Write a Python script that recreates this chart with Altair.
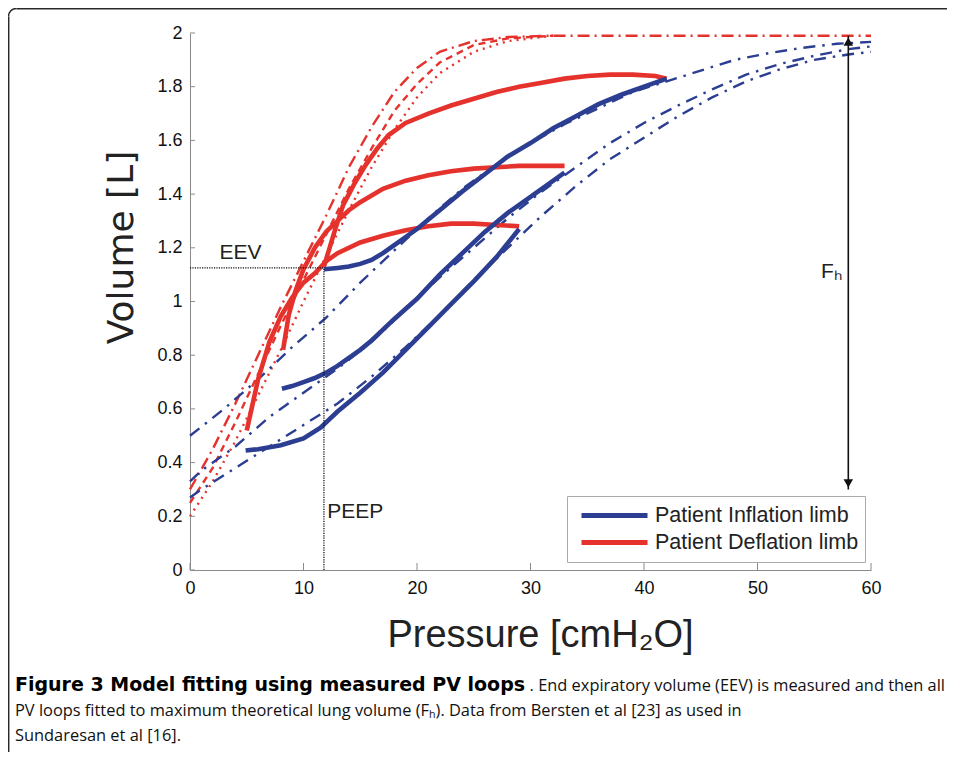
import altair as alt
import pandas as pd

BLUE = "#2c3e91"
RED = "#e5322c"

# ---------------- measured PV loops (pressure cmH2O, volume L) ----------------
infl_A_p = [4.9, 6, 8, 10, 11.5, 13, 15, 17, 19, 21, 23, 25, 27, 29]
infl_A_v = [0.445, 0.45, 0.465, 0.49, 0.53, 0.59, 0.66, 0.735, 0.82, 0.905, 0.99, 1.075, 1.165, 1.27]
infl_B_p = [8.1, 9, 10, 11, 12, 13, 14, 15, 16, 18, 20, 22, 24, 26, 28, 30, 33]
infl_B_v = [0.675, 0.685, 0.70, 0.715, 0.735, 0.76, 0.79, 0.82, 0.855, 0.935, 1.01, 1.1, 1.18, 1.26, 1.33, 1.39, 1.48]
infl_C_p = [11.8, 13, 14, 15, 16, 17, 18, 20, 22, 24, 26, 28, 30, 32, 34, 36, 38, 40, 42]
infl_C_v = [1.12, 1.125, 1.13, 1.14, 1.155, 1.18, 1.21, 1.27, 1.34, 1.41, 1.475, 1.54, 1.59, 1.645, 1.69, 1.735, 1.77, 1.80, 1.83]

defl_A_p = [29, 27, 25, 23, 21, 19, 17, 15, 13, 12, 11, 10, 9, 8, 7, 6, 5]
defl_A_v = [1.28, 1.285, 1.29, 1.29, 1.28, 1.265, 1.245, 1.22, 1.18, 1.15, 1.105, 1.07, 1.015, 0.945, 0.85, 0.71, 0.52]
defl_B_p = [33, 31, 29, 27, 25, 23, 21, 19, 17, 15, 14, 13, 12, 11, 10, 9.3, 8.7, 8.2]
defl_B_v = [1.505, 1.505, 1.505, 1.5, 1.495, 1.485, 1.47, 1.45, 1.42, 1.37, 1.34, 1.30, 1.26, 1.2, 1.12, 1.04, 0.95, 0.82]
defl_C_p = [42, 41, 39, 37, 35, 33, 31, 29, 27, 25, 23, 21, 19, 17.5, 16.5, 15.5, 14.5, 13.5, 12.8, 12.3, 11.8]
defl_C_v = [1.83, 1.84, 1.845, 1.845, 1.84, 1.83, 1.815, 1.80, 1.78, 1.755, 1.73, 1.70, 1.665, 1.62, 1.57, 1.51, 1.44, 1.36, 1.27, 1.2, 1.13]

# ---------------- model fits ----------------
mod_R1_p = [0, 2, 4, 6, 8, 10, 12, 14, 16, 18, 20, 22, 25, 28, 32, 40, 50, 60]
mod_R1_v = [0.30, 0.45, 0.62, 0.80, 0.98, 1.15, 1.32, 1.50, 1.65, 1.78, 1.87, 1.93, 1.97, 1.985, 1.99, 1.99, 1.99, 1.99]
mod_R2_p = [0, 2, 4, 6, 8, 10, 12, 14, 16, 18, 20, 22, 25, 28, 32]
mod_R2_v = [0.25, 0.38, 0.55, 0.73, 0.91, 1.08, 1.25, 1.42, 1.57, 1.71, 1.81, 1.89, 1.955, 1.98, 1.99]
mod_R3_p = [0, 2, 4, 6, 8, 10, 12, 14, 16, 18, 20, 22, 25, 28, 32]
mod_R3_v = [0.20, 0.33, 0.48, 0.65, 0.82, 1.00, 1.17, 1.34, 1.50, 1.64, 1.76, 1.85, 1.93, 1.97, 1.99]

mod_B1_p = [0, 3, 6, 9, 12, 15, 18, 21, 24, 27, 30, 33, 36, 39, 42, 45, 48, 51, 54, 57, 60]
mod_B1_v = [0.50, 0.60, 0.71, 0.83, 0.94, 1.07, 1.19, 1.31, 1.42, 1.51, 1.59, 1.66, 1.72, 1.78, 1.82, 1.86, 1.90, 1.925, 1.945, 1.96, 1.967]
mod_B2_p = [0, 1, 4, 7, 10, 13, 16, 19, 22, 25, 28, 31, 34, 37, 40, 43, 46, 49, 52, 55, 58, 60]
mod_B2_v = [0.33, 0.37, 0.46, 0.57, 0.66, 0.75, 0.85, 0.97, 1.09, 1.20, 1.31, 1.41, 1.50, 1.59, 1.665, 1.73, 1.79, 1.845, 1.885, 1.915, 1.94, 1.95]
mod_B3_p = [0, 1, 4, 7, 10, 13, 16, 19, 22, 25, 28, 31, 34, 37, 40, 43, 46, 49, 52, 55, 58, 60]
mod_B3_v = [0.27, 0.30, 0.38, 0.46, 0.54, 0.62, 0.72, 0.83, 0.95, 1.08, 1.20, 1.32, 1.43, 1.53, 1.61, 1.69, 1.76, 1.82, 1.865, 1.90, 1.92, 1.93]

model_names = ["R1", "R2", "R3", "B1", "B2", "B3"]
model_dashes = [[12, 5, 2, 5], [7, 5], [2, 5], [12, 7, 2.5, 7], [12, 7, 2.5, 7], [12, 7, 2.5, 7]]

limb_names = ["Patient Inflation limb", "Patient Deflation limb"]

# annotations
eev_p, eev_v = 11.8, 1.125
fh_p, fh_low, fh_high = 58.0, 0.30, 1.99
x_ticks = [0, 10, 20, 30, 40, 50, 60]
y_ticks = [0, 0.2, 0.4, 0.6, 0.8, 1.0, 1.2, 1.4, 1.6, 1.8, 2.0]

caption_bold = "Figure 3 Model fitting using measured PV loops"
caption_rest = ". End expiratory volume (EEV) is measured and then all"
caption_line2 = "PV loops fitted to maximum theoretical lung volume (F\u2095). Data from Bersten et al [23] as used in"
caption_line3 = "Sundaresan et al [16]."


def curve_rows(name, ps, vs, **extra):
    return [dict(p=p, v=v, curve=name, i=k, **extra) for k, (p, v) in enumerate(zip(ps, vs))]


meas_rows = []
meas_rows += curve_rows("dA", defl_A_p, defl_A_v, limb=limb_names[1])
meas_rows += curve_rows("dB", defl_B_p, defl_B_v, limb=limb_names[1])
meas_rows += curve_rows("dC", defl_C_p, defl_C_v, limb=limb_names[1])
meas_rows += curve_rows("iA", infl_A_p, infl_A_v, limb=limb_names[0])
meas_rows += curve_rows("iB", infl_B_p, infl_B_v, limb=limb_names[0])
meas_rows += curve_rows("iC", infl_C_p, infl_C_v, limb=limb_names[0])
meas_df = pd.DataFrame(meas_rows)

red_df = pd.DataFrame(curve_rows("R1", mod_R1_p, mod_R1_v) + curve_rows("R2", mod_R2_p, mod_R2_v)
                      + curve_rows("R3", mod_R3_p, mod_R3_v))
blue_df = pd.DataFrame(curve_rows("B1", mod_B1_p, mod_B1_v) + curve_rows("B2", mod_B2_p, mod_B2_v)
                       + curve_rows("B3", mod_B3_p, mod_B3_v))

FONT = "Liberation Sans"

xscale = alt.Scale(domain=[0, 60], nice=False, zero=False)
yscale = alt.Scale(domain=[0, 2], nice=False, zero=False)

x_axis = alt.Axis(values=x_ticks, labelFontSize=18, labelFont=FONT, labelColor="#111", labelPadding=9,
                  labelFlush=False, labelOverlap=False, ticks=False, tickSize=0, grid=False,
                  domainColor="#8a8a8a", domainWidth=1,
                  title="Pressure [cmH\u2082O]", titleFont=FONT, titleFontSize=38, titleFontWeight="normal",
                  titleColor="#222", titleX=350, titleY=76, titleAlign="center", titleBaseline="alphabetic")
y_axis = alt.Axis(values=y_ticks, format=".1~f", labelFontSize=18, labelFont=FONT, labelColor="#111",
                  labelPadding=8, labelFlush=False, labelOverlap=False, ticks=False, tickSize=0, grid=False,
                  domainColor="#8a8a8a", domainWidth=1,
                  title="Volume [L]", titleFont="DejaVu Sans", titleFontSize=36, titleFontWeight="normal",
                  titleColor="#222", titleX=-58, titleY=214, titleAlign="center", titleBaseline="alphabetic")

X = alt.X("p:Q", scale=xscale, axis=x_axis)
Y = alt.Y("v:Q", scale=yscale, axis=y_axis)
dash = alt.StrokeDash("curve:N", scale=alt.Scale(domain=model_names, range=model_dashes), legend=None)

red_models = alt.Chart(red_df).mark_line(strokeWidth=2.4, color=RED).encode(
    x=X, y=Y, detail="curve:N", order="i:Q", strokeDash=dash)
blue_models = alt.Chart(blue_df).mark_line(strokeWidth=2.4, color=BLUE).encode(
    x=X, y=Y, detail="curve:N", order="i:Q", strokeDash=dash)

measured = alt.Chart(meas_df).mark_line(strokeWidth=4.6, strokeCap="butt").encode(
    x=X, y=Y, detail="curve:N", order="i:Q",
    color=alt.Color("limb:N", scale=alt.Scale(domain=limb_names, range=[BLUE, RED]),
                    legend=alt.Legend(title=None, orient="none", legendX=377, legendY=463,
                                      direction="vertical", symbolType="stroke", symbolSize=4356,
                                      symbolStrokeWidth=5, clipHeight=27, rowPadding=0,
                                      labelFontSize=21.5, labelFont=FONT, labelColor="#222", labelLimit=0,
                                      labelOffset=5, padding=6, symbolOffset=6,
                                      strokeColor="#aaaaaa", fillColor="white")))

ann_df = pd.DataFrame([dict(p=eev_p, v=eev_v, p0=0.0, v0=0.0)])
eev_h = alt.Chart(ann_df).mark_rule(color="#111", strokeDash=[1.2, 1.2], strokeWidth=1.3).encode(
    x="p0:Q", x2="p:Q", y="v:Q")
eev_v_rule = alt.Chart(ann_df).mark_rule(color="#111", strokeDash=[1.2, 1.2], strokeWidth=1.3).encode(
    x="p:Q", y="v0:Q", y2="v:Q")

fh_df = pd.DataFrame([dict(p=fh_p, lo=fh_low, hi=fh_high)])
fh_rule = alt.Chart(fh_df).mark_rule(color="#111", strokeWidth=1.6).encode(x="p:Q", y="lo:Q", y2="hi:Q")
fh_top = alt.Chart(fh_df).mark_point(shape="triangle-up", filled=True, size=90, color="#111", opacity=1,
                                     yOffset=6).encode(x="p:Q", y="hi:Q")
fh_bot = alt.Chart(fh_df).mark_point(shape="triangle-down", filled=True, size=90, color="#111", opacity=1,
                                     yOffset=-6).encode(x="p:Q", y="lo:Q")

lbl_df = pd.DataFrame([
    dict(p=2.6, v=1.18, t="EEV"),
    dict(p=12.1, v=0.215, t="PEEP"),
    dict(p=55.6, v=1.11, t="F\u2095"),
])
labels = alt.Chart(lbl_df).mark_text(align="left", baseline="middle", fontSize=21, font=FONT,
                                     color="#222").encode(x="p:Q", y="v:Q", text="t:N")

tx_df = pd.DataFrame({"p": x_ticks})
ty_df = pd.DataFrame({"v": y_ticks})
xt = alt.Chart(tx_df).mark_rule(color="#8a8a8a").encode(x="p:Q", y=alt.value(537), y2=alt.value(530))
yt = alt.Chart(ty_df).mark_rule(color="#8a8a8a").encode(y="v:Q", x=alt.value(0), x2=alt.value(5))

one = pd.DataFrame([{"k": 0}])
FR = "#2a2a2a"
frame_top = alt.Chart(one).mark_rule(color=FR, strokeWidth=1.5).encode(
    x=alt.value(-173.5), x2=alt.value(757), y=alt.value(-24.3))
frame_left = alt.Chart(one).mark_rule(color=FR, strokeWidth=1.5).encode(
    x=alt.value(-181.3), y=alt.value(-16.5), y2=alt.value(719))
frame_corner = alt.Chart(one).mark_arc(innerRadius=7.25, outerRadius=8.75, theta=4.7124, theta2=6.2832,
                                       color=FR).encode(x=alt.value(-173.5), y=alt.value(-16.5))

CAP = "Open Sans"
CAPSIZE = 16.4
cap1a = alt.Chart(one).mark_text(align="left", baseline="alphabetic", font="DejaVu Sans", fontSize=19,
                                 fontWeight="bold", color="#000").encode(
    x=alt.value(-175), y=alt.value(658), text=alt.value(caption_bold))
cap1b = alt.Chart(one).mark_text(align="right", baseline="alphabetic", font=CAP, fontSize=CAPSIZE,
                                 color="#111").encode(
    x=alt.value(755), y=alt.value(658), text=alt.value(caption_rest))
cap2 = alt.Chart(one).mark_text(align="left", baseline="alphabetic", font=CAP, fontSize=CAPSIZE,
                                color="#111").encode(
    x=alt.value(-175), y=alt.value(683), text=alt.value(caption_line2))
cap3 = alt.Chart(one).mark_text(align="left", baseline="alphabetic", font=CAP, fontSize=CAPSIZE,
                                color="#111").encode(
    x=alt.value(-175), y=alt.value(708), text=alt.value(caption_line3))

chart = alt.layer(
    red_models, blue_models, measured, eev_h, eev_v_rule, fh_rule, fh_top, fh_bot, labels, xt, yt,
    frame_top, frame_left, frame_corner, cap1a, cap1b, cap2, cap3
).properties(
    width=681, height=537,
    autosize=alt.AutoSizeParams(type="none"),
    padding={"left": 182, "top": 25, "right": 76, "bottom": 182},
    background="white",
).configure_view(stroke=None)

chart.save("out.html", embed_options={"renderer": "svg", "actions": False})
